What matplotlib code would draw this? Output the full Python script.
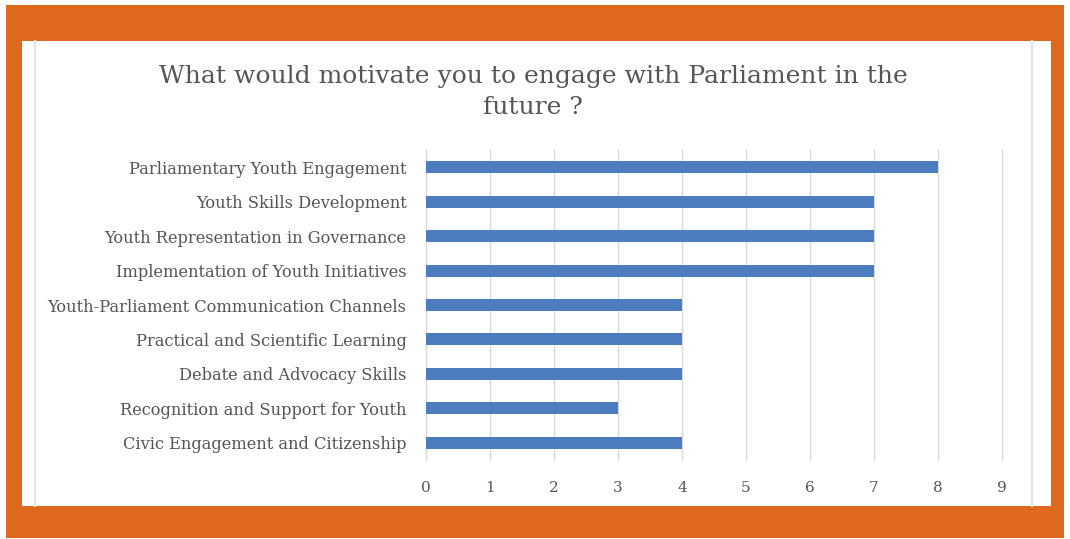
import matplotlib.pyplot as plt
from matplotlib.patches import Rectangle
from matplotlib.lines import Line2D

# ====================== Data ======================
categories = [
    'Parliamentary Youth Engagement',
    'Youth Skills Development',
    'Youth Representation in Governance',
    'Implementation of Youth Initiatives',
    'Youth-Parliament Communication Channels',
    'Practical and Scientific Learning',
    'Debate and Advocacy Skills',
    'Recognition and Support for Youth',
    'Civic Engagement and Citizenship',
]
counts = [8, 7, 7, 7, 4, 4, 4, 3, 4]
x_ticks = [0, 1, 2, 3, 4, 5, 6, 7, 8, 9]

title = 'What would motivate you to engage with Parliament in the\nfuture ?'

W, H = 1070, 539
ORANGE = '#DD681E'
BAR = '#4E7DBF'
TEXT = '#555555'
GRID = '#D9D9D9'


def fx(px):
    return px / W


def fy(py):
    # pixel from top -> figure fraction from bottom
    return 1 - py / H


fig = plt.figure(figsize=(W / 100, H / 100), dpi=100)
fig.patch.set_facecolor('white')

# =========== Frame ===========
fig.patches.append(Rectangle((fx(6), fy(538)), fx(1064 - 6), (538 - 5) / H,
                             transform=fig.transFigure, facecolor=ORANGE, edgecolor='none', zorder=0))
fig.patches.append(Rectangle((fx(22), fy(506)), fx(1051 - 22), (506 - 41) / H,
                             transform=fig.transFigure, facecolor='white', edgecolor='none', zorder=1))
for xp in (35, 1032):
    fig.lines.append(Line2D([fx(xp), fx(xp)], [fy(506), fy(41)], transform=fig.transFigure,
                            color='#E6E6E6', linewidth=1.5, zorder=2))

# =========== Chart ===========
ax = fig.add_axes([fx(426), fy(460), fx(1002 - 426), (460 - 150) / H])
ax.set_zorder(5)
ax.set_facecolor('none')

y_pos = list(range(len(categories)))
ax.barh(y_pos, counts, height=0.35, color=BAR, zorder=3)
ax.set_yticks(y_pos)
ax.set_yticklabels(categories)
ax.set_ylim(len(categories) - 0.5, -0.5)
ax.set_xlim(0, 9)
ax.set_xticks(x_ticks)

ax.grid(axis='x', color=GRID, linewidth=1)
for gl in ax.get_xgridlines():
    gl.set_clip_on(False)
ax.set_axisbelow(True)
for s in ['top', 'right', 'bottom']:
    ax.spines[s].set_visible(False)
ax.spines['left'].set_color(GRID)

ax.tick_params(axis='both', length=0, colors=TEXT, labelsize=11)
ax.tick_params(axis='y', labelsize=11.7, pad=14)
ax.tick_params(axis='x', pad=15)
for lbl in ax.get_yticklabels() + ax.get_xticklabels():
    lbl.set_family('DejaVu Serif')

fig.text(fx(533), fy(92), title, ha='center', va='center', fontsize=18,
         color=TEXT, family='DejaVu Serif', linespacing=1.4, zorder=6)

fig.savefig('out.png', dpi=100)
